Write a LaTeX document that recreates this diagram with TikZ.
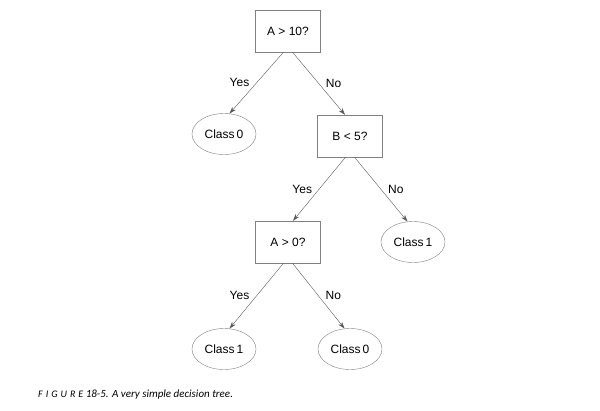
\documentclass[tikz,border=0pt]{standalone}
\usepackage{fontspec}
\setmainfont{Liberation Sans}
\newfontfamily\captionfont{Carlito}
\usetikzlibrary{positioning,shapes.geometric,arrows.meta}

\begin{document}
\begin{tikzpicture}[
        x=1pt, y=-1pt,
        test/.style={rectangle, draw=black!50, minimum width=65pt, minimum height=42pt, inner sep=0pt, font=\fontsize{12}{14}\selectfont},
        leaf/.style={ellipse, draw=black!50, minimum width=64pt, minimum height=41pt, inner sep=0pt, font=\fontsize{12}{14}\selectfont},
        branch/.style={-{Stealth[length=7pt, width=4.5pt]}, draw=black!65},
        branch label/.style={font=\fontsize{12}{14}\selectfont, inner sep=0pt}
    ]
        \useasboundingbox (0,0) rectangle (600,410);

        % Tests
        \node[test] (T-A10) at (288,31) {A > 10?};
        \node[test] (T-B5) at (350,136) {B < 5?};
        \node[test] (T-A0) at (288,242) {A > 0?};

        % Leaves
        \node[leaf] (L-1) at (224,134) {Class\,0};
        \node[leaf] (L-2) at (413,242) {Class\,1};
        \node[leaf] (L-3) at (224,349) {Class\,1};
        \node[leaf] (L-4) at (350,349) {Class\,0};

        % Branches
        \draw[branch] ([xshift=-4.5pt]T-A10.south) -- node[branch label, left=7pt] {Yes} (L-1.75);
        \draw[branch] ([xshift=4.5pt]T-A10.south) -- node[branch label, right=7pt] {No} ([xshift=-5pt]T-B5.north);
        \draw[branch] ([xshift=-4.5pt]T-B5.south) -- node[branch label, left=7pt] {Yes} ([xshift=5pt]T-A0.north);
        \draw[branch] ([xshift=4.5pt]T-B5.south) -- node[branch label, right=7pt] {No} (L-2.105);
        \draw[branch] ([xshift=-4.5pt]T-A0.south) -- node[branch label, left=7pt] {Yes} (L-3.75);
        \draw[branch] ([xshift=4.5pt]T-A0.south) -- node[branch label, right=7pt] {No} (L-4.105);

        % Caption
        \node[anchor=west, inner sep=0pt, font=\captionfont\itshape\fontsize{11}{13}\selectfont] (caption) at (38,395)
            {{\addfontfeatures{LetterSpace=30}\fontsize{10}{13}\selectfont FIGURE} 18-5. A very simple decision tree.};

    \end{tikzpicture}
\end{document}
